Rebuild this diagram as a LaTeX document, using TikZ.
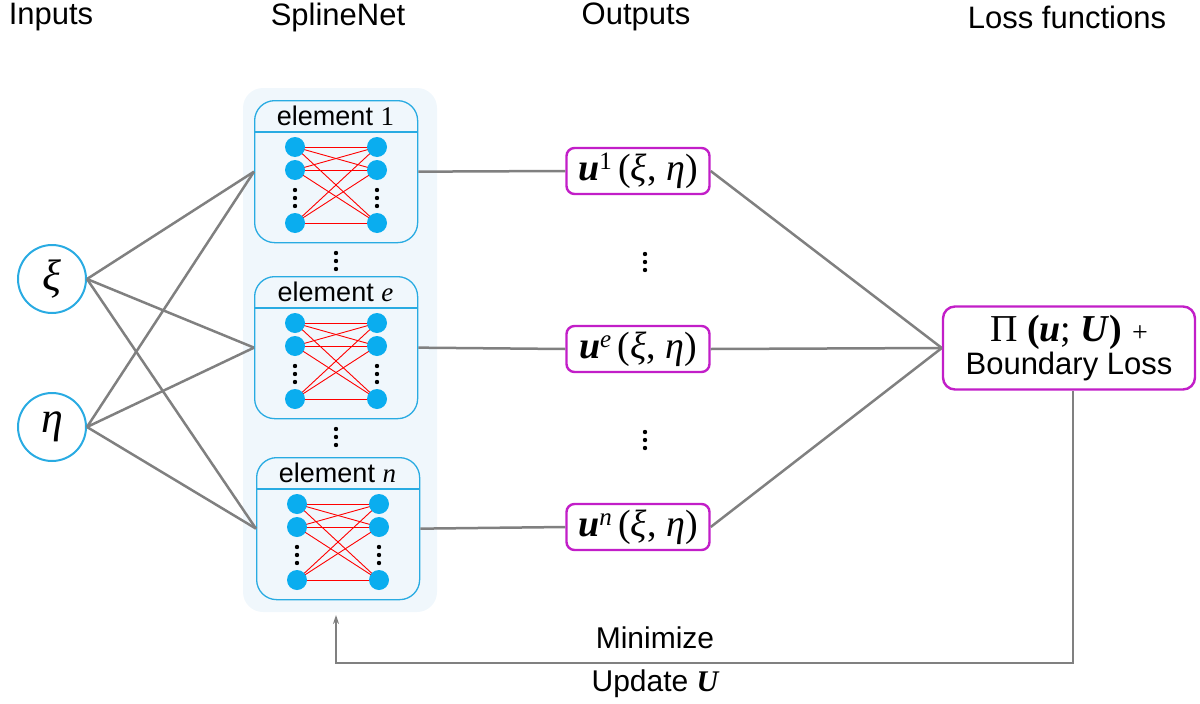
\documentclass[tikz,border=0pt]{standalone}
\usepackage{fontspec}
\setmainfont{Liberation Sans}
\newfontfamily\tms{Liberation Serif}
\usetikzlibrary{arrows.meta,calc}
\definecolor{gline}{HTML}{808080}
\definecolor{cyanb}{HTML}{29ABE2}
\definecolor{neuron}{HTML}{0AADEF}
\definecolor{mag}{HTML}{C21EC8}
\definecolor{panel}{HTML}{F0F7FC}
\newcommand\vdotsat[3]{% name, x, y
  \fill (#2,#3-8) circle (2.2) (#2,#3) circle (2.2) (#2,#3+8) circle (2.2);
}
\newcommand\ubold{{\tms\bfseries\itshape u}}
\newcommand\outtext[1]{\fontsize{38}{40}\selectfont\ubold\raisebox{11pt}{\fontsize{25}{25}\selectfont\tms #1}\,{\tms(\textit{ξ}, \textit{η})}}
\newcommand\elementblock[5]{% name, left x, top y, label, neuron prefix
  \node[elbox, anchor=north west] (#1) at (#2,#3) {};
  \draw[cyanb, line width=1.3] ($(#1.north west)+(0,32)$) -- ($(#1.north east)+(0,32)$);
  \node[font=\fontsize{27}{30}\selectfont] (#1lab) at (#2+81.5,#3+16) {#4};
  \coordinate (#5a1) at (#2+41,#3+47);
  \coordinate (#5a2) at (#2+41,#3+70);
  \coordinate (#5a3) at (#2+41,#3+123);
  \coordinate (#5b1) at (#2+123,#3+47);
  \coordinate (#5b2) at (#2+123,#3+70);
  \coordinate (#5b3) at (#2+123,#3+123);
  \foreach \i in {1,2,3}{\foreach \j in {1,2,3}{\draw[red, line width=0.9] (#5a\i) -- (#5b\j);}}
  \foreach \k in {a1,a2,a3,b1,b2,b3}{\node[neur] (#5n\k) at (#5\k) {};}
  \vdotsat{#5d1}{#2+41}{#3+98}
  \vdotsat{#5d2}{#2+123}{#3+98}
}
\begin{document}
\begin{tikzpicture}[x=1pt,y=-1pt,
  elbox/.style={draw=cyanb, line width=1.3, rounded corners=20, minimum width=163, minimum height=142, inner sep=0, fill=panel},
  neur/.style={circle, fill=neuron, minimum size=20, inner sep=0},
  inbox/.style={circle, draw=cyanb, line width=2, minimum size=68, inner sep=0, font=\fontsize{44}{44}\selectfont\tms\itshape},
  outbox/.style={draw=mag, line width=2.4, rounded corners=8, minimum width=143, minimum height=46, inner sep=1, fill=white},
  conn/.style={draw=gline, line width=2.5},
  title/.style={font=\fontsize{31}{34}\selectfont}
]
\useasboundingbox (0,0) rectangle (1200,704);
% titles
\node[title] (tin) at (51,17) {Inputs};
\node[title] (tsn) at (338,17) {SplineNet};
\node[title] (tout) at (636,17) {Outputs};
\node[title] (tloss) at (1067,17) {Loss functions};
% panel
\fill[panel, rounded corners=20] (243,88) rectangle (437,612);
% elements
\elementblock{el1}{254}{100}{element {\tms 1}}{p}
\elementblock{ele}{254}{276}{element {\tms\itshape e}}{q}
\elementblock{eln}{256}{457}{element {\tms\itshape n}}{r}
\vdotsat{sd1}{336}{261}
\vdotsat{sd2}{336}{437}
% inputs
\node[inbox] (xi) at (52,279) {ξ};
\node[inbox] (eta) at (52,427) {η};
% outputs
\node[outbox] (u1) at (638,171) {\outtext{1}};
\node[outbox] (ue) at (638,349) {\outtext{\itshape e}};
\node[outbox] (un) at (638,527) {\outtext{\itshape n}};
\vdotsat{od1}{645}{262}
\vdotsat{od2}{645}{440}
% loss
\node[draw=mag, line width=2.4, rounded corners=12, minimum width=252, minimum height=83, align=center, inner sep=2, fill=white] (loss) at (1069,348)
  {{\fontsize{38}{40}\selectfont\tms Π \textbf{(}\textbf{\textit{u}}; \textbf{\textit{U}}\textbf{)} {\fontsize{28}{28}\selectfont +}}\\[2pt]
   {\fontsize{31}{34}\selectfont Boundary Loss}};
% connectors inputs -> elements
\foreach \s in {xi,eta}{
  \foreach \t in {el1,ele,eln}{
    \draw[conn] (\s.east) -- (\t.west);
  }
}
% elements -> outputs
\draw[conn] (el1.east) -- (u1.west);
\draw[conn] (ele.east) -- (ue.west);
\draw[conn] (eln.east) -- (un.west);
% outputs -> loss
\foreach \o in {u1,ue,un}{\draw[conn] (\o.east) -- (loss.west);}
% feedback
\coordinate (fbend) at (336,663);
\coordinate (fbtip) at (336,615);
\draw[draw=gline, line width=2, -{Stealth[length=9pt,width=6pt]}] ([xshift=4]loss.south) |- (fbend) -- (fbtip);
\node[font=\fontsize{30}{32}\selectfont] (minl) at (655,638) {Minimize};
\node[font=\fontsize{30}{32}\selectfont] (updl) at (655,684) {Update {\tms\bfseries\itshape U}};
\end{tikzpicture}
\end{document}
